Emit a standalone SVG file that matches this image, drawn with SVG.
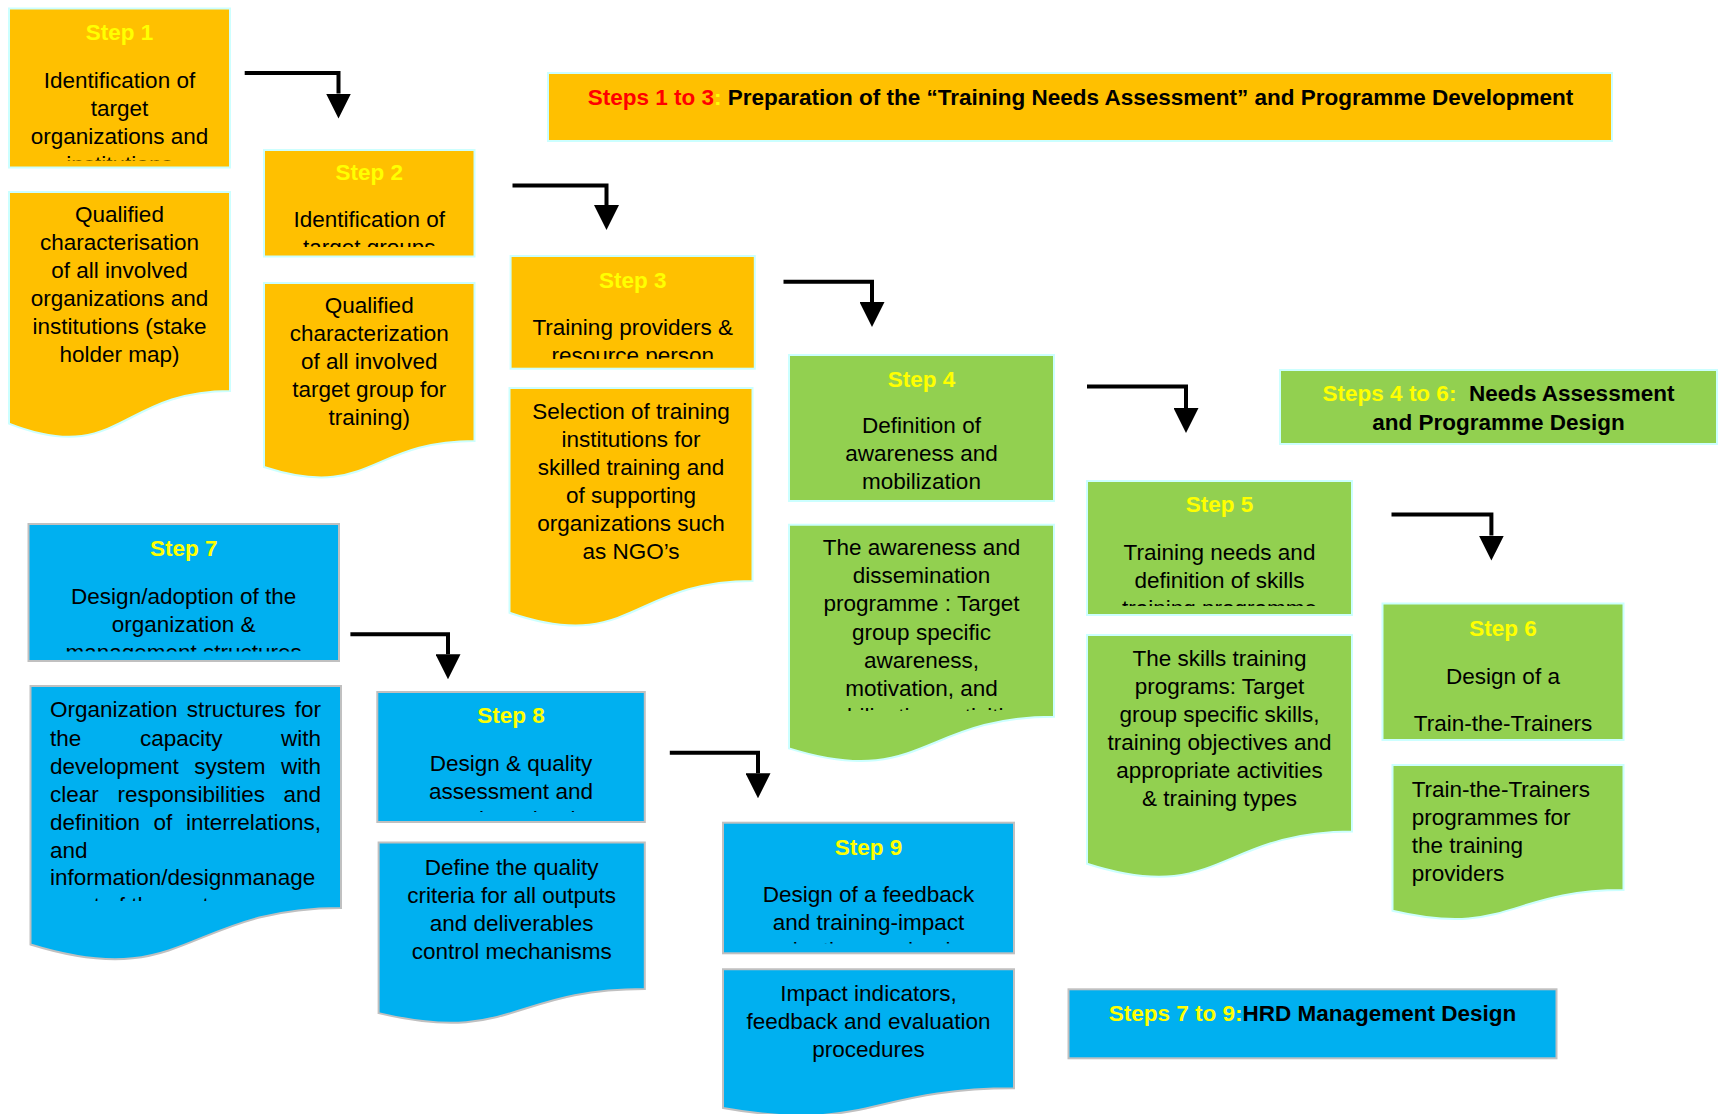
<svg xmlns="http://www.w3.org/2000/svg" width="1718" height="1114" viewBox="0 0 1718 1114">
<style>
.o{fill:#FFC000;stroke:#CCFFFF;stroke-width:2}
.g{fill:#92D050;stroke:#CCFFFF;stroke-width:2}
.b{fill:#00B0F0;stroke:#C0C0C0;stroke-width:2}
text{font-family:"Liberation Sans",Arial,sans-serif;font-size:22.5px;fill:#000}
.c{text-anchor:middle}
.e{text-anchor:end}
.s{font-weight:bold;fill:#FFFF00}
.h{font-weight:bold}
.r{fill:#FF0000}
.y{fill:#FFFF00}
.conn{fill:none;stroke:#000;stroke-width:4;stroke-linejoin:miter}
</style>
<defs>
<marker id="ah" viewBox="0 0 25 25" markerWidth="25" markerHeight="25" refX="0" refY="12.5" orient="auto" markerUnits="userSpaceOnUse">
<path d="M0,0 L25,12.5 L0,25 Z" fill="#000"/>
</marker>
<clipPath id="c1"><rect x="9" y="8" width="221" height="152.5"/></clipPath>
<clipPath id="c2"><rect x="264" y="150" width="211" height="97"/></clipPath>
<clipPath id="c3"><rect x="510" y="256" width="245" height="103"/></clipPath>
<clipPath id="c4d"><rect x="789" y="525" width="265" height="186"/></clipPath>
<clipPath id="c5"><rect x="1087" y="481" width="265" height="125"/></clipPath>
<clipPath id="c7"><rect x="28" y="524" width="311" height="127.5"/></clipPath>
<clipPath id="c7d"><rect x="30" y="686" width="311" height="215"/></clipPath>
<clipPath id="c8"><rect x="377" y="692" width="268" height="120"/></clipPath>
<clipPath id="c9"><rect x="723" y="823" width="291" height="120.5"/></clipPath>
</defs>

<g id="phase1">
<rect class="o" x="548" y="73" width="1064" height="68"/>
<text class="c h" x="1080.5" y="104.5"><tspan class="r">Steps 1 to 3</tspan><tspan class="y">:</tspan> Preparation of the “Training Needs Assessment” and Programme Development</text>
</g>

<g id="phase2">
<rect class="g" x="1280" y="370" width="437" height="74"/>
<text class="c h" x="1498.5" y="401" xml:space="preserve"><tspan class="y">Steps 4 to 6:</tspan>  Needs Assessment</text>
<text class="c h" x="1498.5" y="430">and Programme Design</text>
</g>

<g id="phase3">
<rect class="b" x="1068.5" y="989.3" width="488" height="69"/>
<text class="c h" x="1312.5" y="1021.3"><tspan class="y">Steps 7 to 9:</tspan>HRD Management Design</text>
</g>

<g id="step1">
<rect class="o" x="9" y="8.5" width="221" height="159"/>
<text class="c s" x="119.5" y="40">Step 1</text>
<g clip-path="url(#c1)">
<text class="c" x="119.5" y="87.5">Identification of</text>
<text class="c" x="119.5" y="115.5">target</text>
<text class="c" x="119.5" y="143.5">organizations and</text>
<text class="c" x="119.5" y="171.5">institutions</text>
</g>
<path class="o" d="M9,192 H230 V390.9 C119.5,390.9 119.5,466.7 9,423.6 Z"/>
<text class="c" x="119.5" y="221.7">Qualified</text>
<text class="c" x="119.5" y="249.7">characterisation</text>
<text class="c" x="119.5" y="277.7">of all involved</text>
<text class="c" x="119.5" y="305.7">organizations and</text>
<text class="c" x="119.5" y="333.7">institutions (stake</text>
<text class="c" x="119.5" y="361.7">holder map)</text>
</g>

<g id="step2">
<rect class="o" x="264" y="150" width="210.5" height="106.5"/>
<text class="c s" x="369.25" y="180">Step 2</text>
<g clip-path="url(#c2)">
<text class="c" x="369.25" y="226.7">Identification of</text>
<text class="c" x="369.25" y="254.7">target groups</text>
</g>
<path class="o" d="M264,283 H474.5 V441 C369.25,441 369.25,501.2 264,467 Z"/>
<text class="c" x="369.25" y="312.7">Qualified</text>
<text class="c" x="369.25" y="340.7">characterization</text>
<text class="c" x="369.25" y="368.7">of all involved</text>
<text class="c" x="369.25" y="396.7">target group for</text>
<text class="c" x="369.25" y="424.7">training)</text>
</g>

<g id="step3">
<rect class="o" x="510.6" y="256" width="244.2" height="112.7"/>
<text class="c s" x="632.7" y="287.5">Step 3</text>
<g clip-path="url(#c3)">
<text class="c" x="632.7" y="334.7">Training providers &amp;</text>
<text class="c" x="632.7" y="362.7">resource person</text>
</g>
<path class="o" d="M509.5,388 H752.5 V581 C631,581 631,654.5 509.5,612.7 Z"/>
<text class="c" x="631" y="419">Selection of training</text>
<text class="c" x="631" y="446.8">institutions for</text>
<text class="c" x="631" y="474.6">skilled training and</text>
<text class="c" x="631" y="502.6">of supporting</text>
<text class="c" x="631" y="530.5">organizations such</text>
<text class="c" x="631" y="558.5">as NGO’s</text>
</g>

<g id="step4">
<rect class="g" x="789" y="355" width="265" height="146"/>
<text class="c s" x="921.5" y="386.5">Step 4</text>
<text class="c" x="921.5" y="433">Definition of</text>
<text class="c" x="921.5" y="461">awareness and</text>
<text class="c" x="921.5" y="489">mobilization</text>
<path class="g" d="M789,524.8 H1054 V716.8 C921.5,716.8 921.5,789.9 789,748.4 Z"/>
<g clip-path="url(#c4d)">
<text class="c" x="921.5" y="555">The awareness and</text>
<text class="c" x="921.5" y="583.2">dissemination</text>
<text class="c" x="921.5" y="611.4">programme : Target</text>
<text class="c" x="921.5" y="639.6">group specific</text>
<text class="c" x="921.5" y="667.8">awareness,</text>
<text class="c" x="921.5" y="696">motivation, and</text>
<text class="c" x="921.5" y="724.2">mobilization activities</text>
</g>
</g>

<g id="step5">
<rect class="g" x="1087" y="481" width="265" height="134"/>
<text class="c s" x="1219.5" y="512">Step 5</text>
<g clip-path="url(#c5)">
<text class="c" x="1219.5" y="559.7">Training needs and</text>
<text class="c" x="1219.5" y="587.6">definition of skills</text>
<text class="c" x="1219.5" y="615.6">training programme</text>
</g>
<path class="g" d="M1087,635 H1352 V831.4 C1219.5,831.4 1219.5,906.2 1087,863.7 Z"/>
<text class="c" x="1219.5" y="666">The skills training</text>
<text class="c" x="1219.5" y="694">programs: Target</text>
<text class="c" x="1219.5" y="722">group specific skills,</text>
<text class="c" x="1219.5" y="750">training objectives and</text>
<text class="c" x="1219.5" y="778">appropriate activities</text>
<text class="c" x="1219.5" y="806">&amp; training types</text>
</g>

<g id="step6">
<rect class="g" x="1382.5" y="603.5" width="241" height="136.5"/>
<text class="c s" x="1503" y="636">Step 6</text>
<text class="c" x="1503" y="684">Design of a</text>
<text class="c" x="1503" y="731">Train-the-Trainers</text>
<path class="g" d="M1392.5,765 H1623.5 V890.1 C1508,890.1 1508,937.8 1392.5,910.7 Z"/>
<text x="1411.7" y="797">Train-the-Trainers</text>
<text x="1411.7" y="825">programmes for</text>
<text x="1411.7" y="853">the training</text>
<text x="1411.7" y="880.5">providers</text>
</g>

<g id="step7">
<rect class="b" x="28.5" y="524" width="310.5" height="137"/>
<text class="c s" x="183.7" y="555.5">Step 7</text>
<g clip-path="url(#c7)">
<text class="c" x="183.7" y="603.7">Design/adoption of the</text>
<text class="c" x="183.7" y="632">organization &amp;</text>
<text class="c" x="183.7" y="660.3">management structures</text>
</g>
<path class="b" d="M30.5,686 H341 V908 C185.75,908 185.75,992.6 30.5,944.5 Z"/>
<g clip-path="url(#c7d)">
<text x="50" y="717.4">Organization</text><text x="186.8" y="717.4">structures</text><text class="e" x="321" y="717.4">for</text>
<text x="50" y="745.6">the</text><text x="139.9" y="745.6">capacity</text><text class="e" x="321" y="745.6">with</text>
<text x="50" y="773.8">development</text><text x="194.3" y="773.8">system</text><text class="e" x="321" y="773.8">with</text>
<text x="50" y="801.6">clear</text><text x="117.4" y="801.6">responsibilities</text><text class="e" x="321" y="801.6">and</text>
<text x="50" y="829.8">definition</text><text x="153.6" y="829.8">of</text><text class="e" x="321" y="829.8">interrelations,</text>
<text x="50" y="857.6">and</text>
<text x="50" y="885.2">information/designmanage</text>
<text x="50" y="913.2">ment of the system</text>
</g>
</g>

<g id="step8">
<rect class="b" x="377.3" y="692" width="267.5" height="130"/>
<text class="c s" x="511" y="723">Step 8</text>
<g clip-path="url(#c8)">
<text class="c" x="511" y="771.4">Design &amp; quality</text>
<text class="c" x="511" y="799">assessment and</text>
<text class="c" x="511" y="827">control mechanism</text>
</g>
<path class="b" d="M378.6,842.6 H644.8 V989 C511.7,989 511.7,1044.7 378.6,1013.1 Z"/>
<text class="c" x="511.7" y="874.7">Define the quality</text>
<text class="c" x="511.7" y="902.8">criteria for all outputs</text>
<text class="c" x="511.7" y="930.8">and deliverables</text>
<text class="c" x="511.7" y="958.5">control mechanisms</text>
</g>

<g id="step9">
<rect class="b" x="723" y="822.7" width="291" height="130.6"/>
<text class="c s" x="868.5" y="854.7">Step 9</text>
<g clip-path="url(#c9)">
<text class="c" x="868.5" y="902">Design of a feedback</text>
<text class="c" x="868.5" y="929.7">and training-impact</text>
<text class="c" x="868.5" y="957.5">evaluation mechanism</text>
</g>
<path class="b" d="M723,969.3 H1014 V1088.3 C868.5,1088.3 868.5,1133.7 723,1107.9 Z"/>
<text class="c" x="868.5" y="1001">Impact indicators,</text>
<text class="c" x="868.5" y="1028.7">feedback and evaluation</text>
<text class="c" x="868.5" y="1057">procedures</text>
</g>

<g id="connectors">
<path class="conn" d="M244.7,73 H338.5 V93.5" marker-end="url(#ah)"/>
<path class="conn" d="M512.5,185.6 H606.5 V205" marker-end="url(#ah)"/>
<path class="conn" d="M783.5,281.7 H872 V302" marker-end="url(#ah)"/>
<path class="conn" d="M1087,386.5 H1186 V408" marker-end="url(#ah)"/>
<path class="conn" d="M1391.5,514.6 H1491.4 V535.6" marker-end="url(#ah)"/>
<path class="conn" d="M350.4,634.3 H448 V654.3" marker-end="url(#ah)"/>
<path class="conn" d="M669.8,752.7 H758 V773.3" marker-end="url(#ah)"/>
</g>
</svg>
